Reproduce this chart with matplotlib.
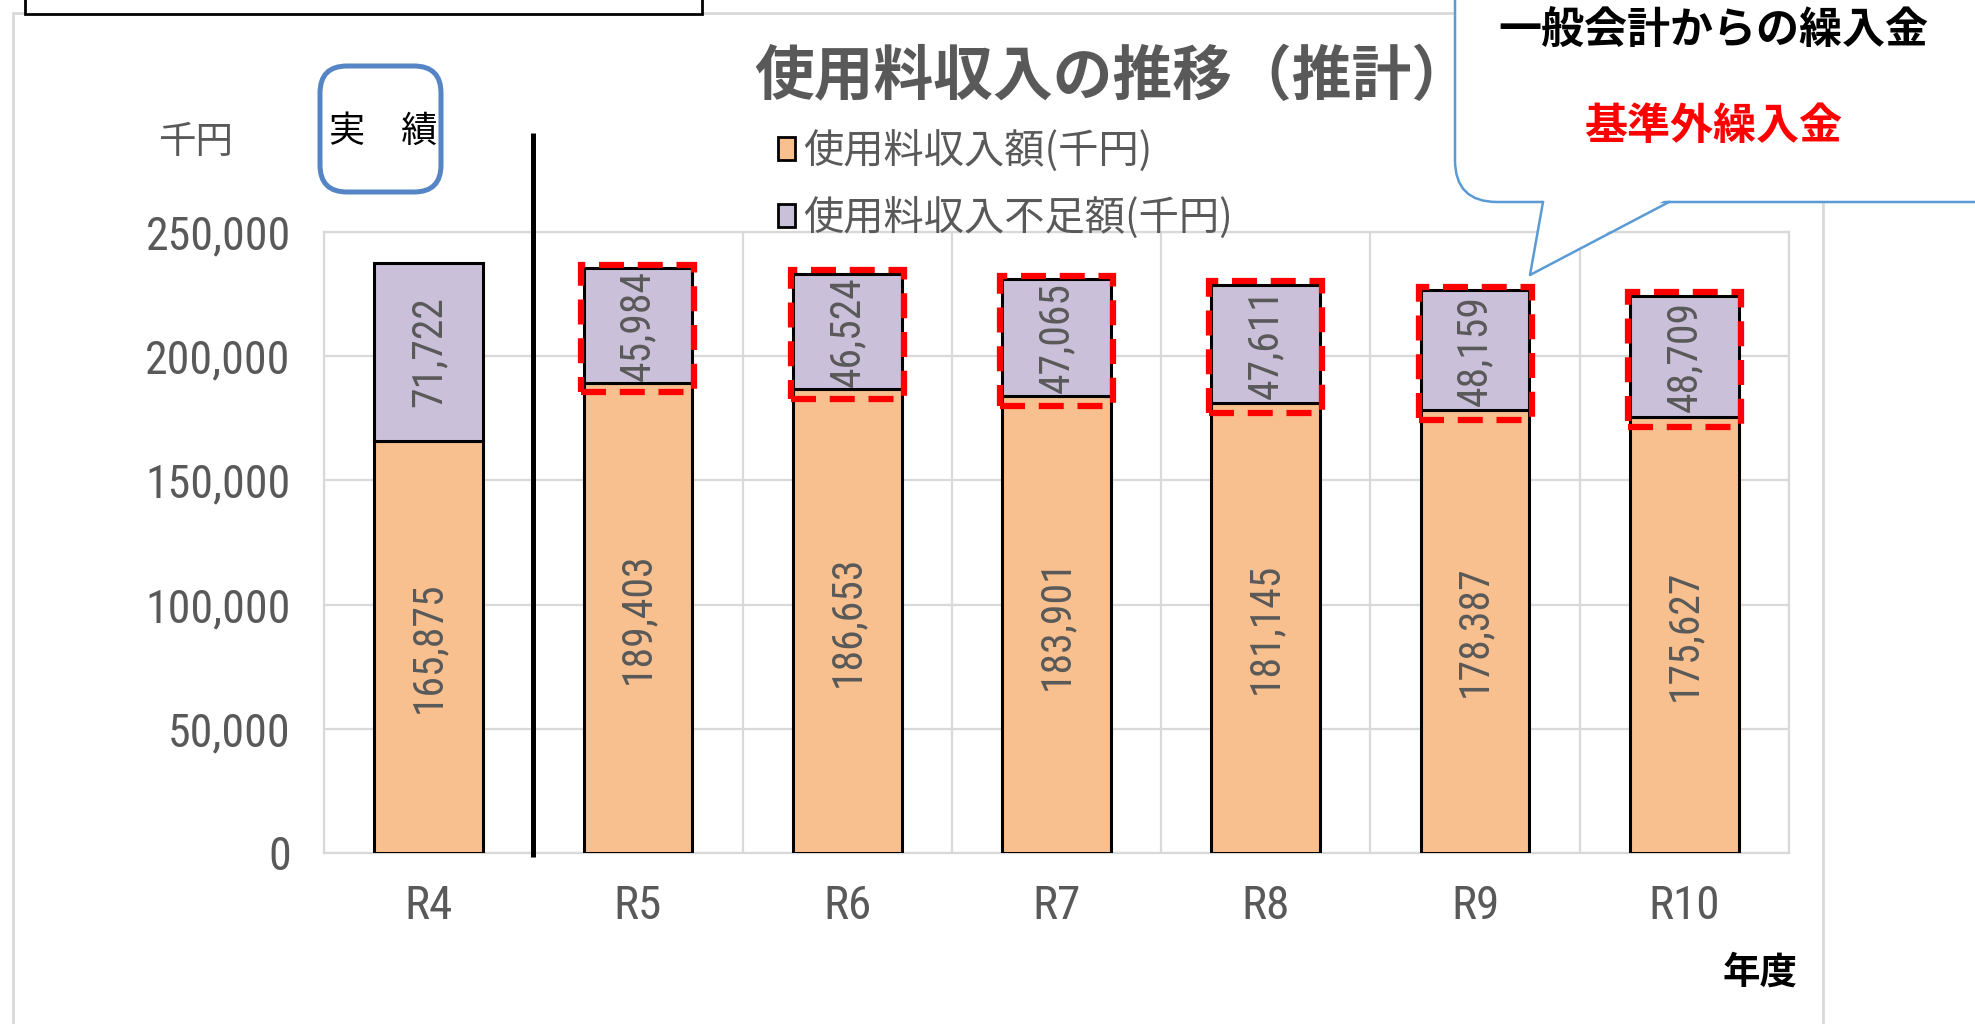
import numpy as np
import matplotlib
matplotlib.use("Agg")
import matplotlib.pyplot as plt
from matplotlib.patches import Rectangle, FancyBboxPatch, Polygon, Patch

# ---------- data ----------
years = ["R4", "R5", "R6", "R7", "R8", "R9", "R10"]
revenue = [165875, 189403, 186653, 183901, 181145, 178387, 175627]      # 使用料収入額
shortfall = [71722, 45984, 46524, 47065, 47611, 48159, 48709]           # 使用料収入不足額
y_ticks = [0, 50000, 100000, 150000, 200000, 250000]
legend_labels = ["使用料収入額(千円)", "使用料収入不足額(千円)"]
marked = [1, 2, 3, 4, 5, 6]   # bars circled in red dashes

# ---------- style ----------
JP = ["Noto Sans CJK JP", "DejaVu Sans"]
NUM = ["Liberation Sans Narrow", "Roboto Condensed", "DejaVu Sans"]
GRAY = "#595959"
GRID = "#D9D9D9"
ORANGE = "#F9C08F"
PURPLE = "#CBC0DA"
W, H = 1975, 1024

def fx(px):
    return px / W

def fy(py):
    return 1 - py / H

def inch(px, py):
    # figure pixel (from top-left) -> inches for dpi_scale_trans
    return px / 100, (H - py) / 100

fig = plt.figure(figsize=(W / 100, H / 100), dpi=100)
ax = fig.add_axes([fx(324), fy(853), fx(1789) - fx(324), fy(232) - fy(853)])

x = np.arange(len(years))
bw = 0.52
b1 = ax.bar(x, revenue, bw, color=ORANGE, edgecolor="black", linewidth=2.2, zorder=3)
b2 = ax.bar(x, shortfall, bw, bottom=revenue, color=PURPLE, edgecolor="black",
            linewidth=2.2, zorder=3)

# data labels, rotated and clipped to their segment
for bars, vals, bases in [(b1, revenue, [0] * len(x)), (b2, shortfall, revenue)]:
    for rect, v, b in zip(bars, vals, bases):
        t = ax.text(rect.get_x() + rect.get_width() / 2, b + v / 2, f"{v:,}",
                    rotation=90, ha="center", va="center", color=GRAY,
                    fontsize=30, family=NUM, fontstretch="condensed", zorder=4)
        t.set_clip_path(rect)

# red dashed boxes around the shortfall of the estimate years
for i in marked:
    lo = revenue[i] - 4000
    hi = revenue[i] + shortfall[i] + 1500
    ax.add_patch(Rectangle((x[i] - bw / 2 - 0.01, lo), bw + 0.02, hi - lo, fill=False,
                           edgecolor="#FF0000", linewidth=4.5,
                           linestyle=(0, (4, 2.2)), zorder=5, clip_on=False))

# separator between actual and estimate
ax.plot([0.5, 0.5], [-1500, 290000], color="black", linewidth=3.6,
        clip_on=False, zorder=6, solid_capstyle="butt")

ax.set_xlim(-0.5, len(years) - 0.5)
ax.set_ylim(0, 250000)
ax.set_yticks(y_ticks)
ax.set_yticklabels([f"{v:,}" for v in y_ticks], family=NUM, fontsize=33,
                   color=GRAY, fontstretch="condensed")
ax.set_xticks(x)
ax.set_xticklabels(years, family=NUM, fontsize=34, color=GRAY, fontstretch="condensed")
ax.set_xticks(np.arange(len(years) + 1) - 0.5, minor=True)
ax.tick_params(axis="both", which="both", length=0)
ax.tick_params(axis="y", pad=24)
ax.tick_params(axis="x", pad=22)
ax.grid(axis="y", which="major", color=GRID, linewidth=1.6, zorder=0)
ax.grid(axis="x", which="minor", color=GRID, linewidth=1.6, zorder=0)
for s in ax.spines.values():
    s.set_color(GRID)
    s.set_linewidth(1.6)

# legend
handles = [Patch(facecolor=ORANGE, edgecolor="black", linewidth=2),
           Patch(facecolor=PURPLE, edgecolor="black", linewidth=2)]
leg = ax.legend(handles, legend_labels, loc="upper left",
                bbox_to_anchor=(fx(762), fy(114)), bbox_transform=fig.transFigure,
                frameon=False, handlelength=0.42, handleheight=0.5,
                handletextpad=0.2, labelspacing=0.6, borderaxespad=0,
                prop={"family": JP, "size": 29})
for t in leg.get_texts():
    t.set_color(GRAY)

# title and axis captions
fig.text(fx(1113), fy(78), "使用料収入の推移（推計）", ha="center", va="center",
         fontsize=43, fontweight="bold", color=GRAY, family=JP)
fig.text(fx(196), fy(142), "千円", ha="center", va="center", fontsize=27,
         color=GRAY, family=JP)
fig.text(fx(1760), fy(972), "年度", ha="center", va="center", fontsize=27,
         color="black", family=JP, fontweight="bold")

# chart outer border and the box cut off at the top-left
fig.patches.append(Rectangle((fx(13), fy(1100)), fx(1823) - fx(13), fy(13) - fy(1100),
                             transform=fig.transFigure, fill=False,
                             edgecolor=GRID, linewidth=2, zorder=1))
fig.patches.append(Rectangle((fx(25), fy(14)), fx(702) - fx(25), fy(-40) - fy(14),
                             transform=fig.transFigure, facecolor="white",
                             edgecolor="black", linewidth=2, zorder=2))

# "実 績" badge
fig.patches.append(FancyBboxPatch(inch(320, 192), 121 / 100, 126 / 100,
                                  boxstyle="round,pad=0,rounding_size=0.27",
                                  transform=fig.dpi_scale_trans, facecolor="white",
                                  edgecolor="#5585C5", linewidth=3.6, zorder=7))
fig.text(fx(383), fy(132), "実　績", ha="center", va="center", fontsize=26,
         color="black", family=JP, zorder=8)

# callout
BLUE = "#5B9BD5"
fig.patches.append(FancyBboxPatch(inch(1455, 202), 6.0, 3.0,
                                  boxstyle="round,pad=0,rounding_size=0.42",
                                  transform=fig.dpi_scale_trans, facecolor="white",
                                  edgecolor=BLUE, linewidth=1.8, zorder=9))
tail = [inch(1543, 198), inch(1669, 198), inch(1530, 275)]
fig.patches.append(Polygon(tail, closed=True, transform=fig.dpi_scale_trans,
                           facecolor="white", edgecolor="none", zorder=10))
tx, ty = zip(inch(1543, 202), inch(1530, 275), inch(1669, 202))
fig.lines.append(plt.Line2D(tx, ty, transform=fig.dpi_scale_trans,
                            color=BLUE, linewidth=1.8, zorder=11))
fig.text(fx(1713), fy(30), "一般会計からの繰入金", ha="center", va="center",
         fontsize=31, fontweight="bold", color="black", family=JP, zorder=12)
fig.text(fx(1713), fy(126), "基準外繰入金", ha="center", va="center",
         fontsize=31, fontweight="bold", color="#FF0000", family=JP, zorder=12)

fig.savefig("out.png", dpi=100)
